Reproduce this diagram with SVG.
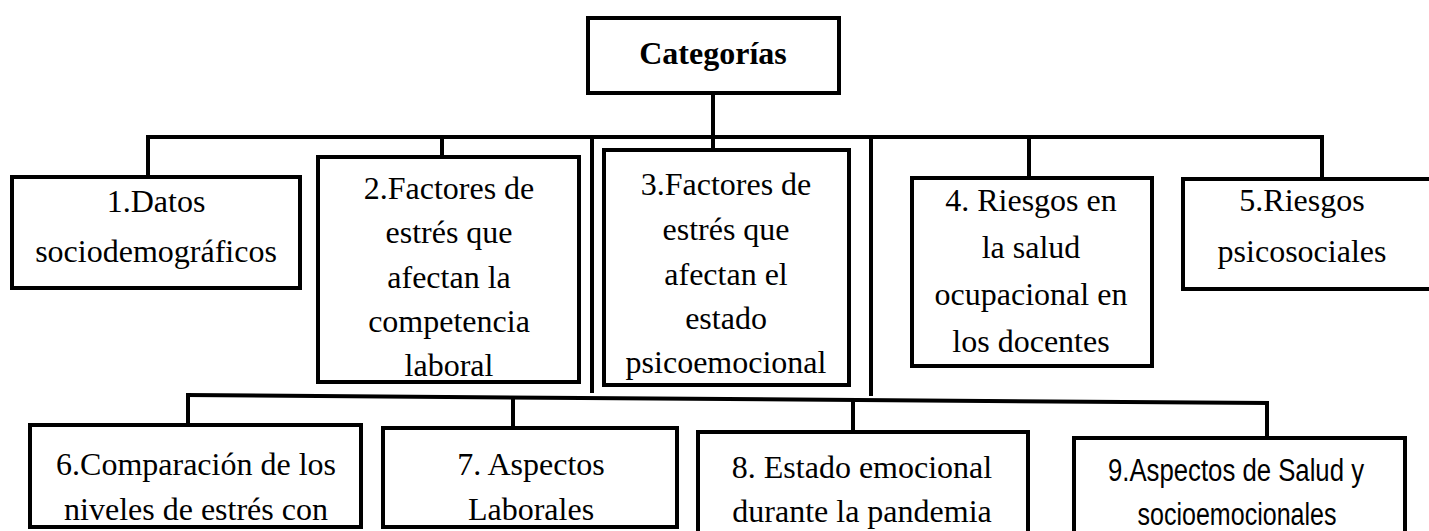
<svg xmlns="http://www.w3.org/2000/svg" width="1429" height="531" viewBox="0 0 1429 531">
<style>
.box{fill:#fff;stroke:#000;stroke-width:4}
.ln{stroke:#000;stroke-width:4;fill:none}
.t{font-family:'Liberation Serif','DejaVu Serif',serif;font-size:32px;fill:#000;text-anchor:middle}
.b{font-weight:bold}
.sans{font-family:'Liberation Sans Narrow','Liberation Sans',sans-serif;font-size:31px;fill:#000;text-anchor:middle}
</style>
<rect width="1429" height="531" fill="#fff"/>
<g id="connectors">
<line class="ln" x1="713" y1="93" x2="713" y2="150"/>
<line class="ln" x1="146" y1="137" x2="1324" y2="137"/>
<line class="ln" x1="148" y1="137" x2="148" y2="177"/>
<line class="ln" x1="442" y1="137" x2="442" y2="157"/>
<line class="ln" x1="1029" y1="137" x2="1029" y2="178"/>
<line class="ln" x1="1322" y1="137" x2="1322" y2="179"/>
<line class="ln" x1="592" y1="137" x2="592" y2="393"/>
<line class="ln" x1="871" y1="137" x2="871" y2="396"/>
<line class="ln" x1="186" y1="395" x2="1269" y2="403"/>
<line class="ln" x1="188" y1="395" x2="188" y2="425"/>
<line class="ln" x1="513" y1="397" x2="513" y2="428"/>
<line class="ln" x1="853" y1="400" x2="853" y2="432"/>
<line class="ln" x1="1267" y1="403" x2="1267" y2="438"/>
</g>
<g id="n0"><rect class="box" x="588" y="18" width="251" height="75"/><text class="t b" x="713" y="64">Categorías</text></g>
<g id="n1"><rect class="box" x="12" y="177" width="288" height="111"/><text class="t" x="156" y="212">1.Datos</text><text class="t" x="156" y="262">sociodemográficos</text></g>
<g id="n2"><rect class="box" x="318" y="157" width="261" height="225"/><text class="t" x="449" y="199">2.Factores de</text><text class="t" x="449" y="243">estrés que</text><text class="t" x="449" y="288">afectan la</text><text class="t" x="449" y="332">competencia</text><text class="t" x="449" y="376">laboral</text></g>
<g id="n3"><rect class="box" x="604" y="150" width="245" height="235"/><text class="t" x="726" y="195">3.Factores de</text><text class="t" x="726" y="240">estrés que</text><text class="t" x="726" y="285">afectan el</text><text class="t" x="726" y="329">estado</text><text class="t" x="726" y="373">psicoemocional</text></g>
<g id="n4"><rect class="box" x="912" y="178" width="240" height="188"/><text class="t" x="1031" y="211">4. Riesgos en</text><text class="t" x="1031" y="258">la salud</text><text class="t" x="1031" y="305">ocupacional en</text><text class="t" x="1031" y="352">los docentes</text></g>
<g id="n5"><rect class="box" x="1183" y="179" width="260" height="110"/><text class="t" x="1302" y="211">5.Riesgos</text><text class="t" x="1302" y="262">psicosociales</text></g>
<g id="n6"><rect class="box" x="30" y="425" width="331" height="102"/><text class="t" x="196" y="475">6.Comparación de los</text><text class="t" x="196" y="520">niveles de estrés con</text></g>
<g id="n7"><rect class="box" x="383" y="428" width="294" height="99"/><text class="t" x="531" y="475">7. Aspectos</text><text class="t" x="531" y="520">Laborales</text></g>
<g id="n8"><rect class="box" x="698" y="432" width="330" height="103"/><text class="t" x="862" y="478">8. Estado emocional</text><text class="t" x="862" y="522">durante la pandemia</text></g>
<g id="n9"><rect class="box" x="1074" y="438" width="331" height="97"/><text class="sans" x="1236" y="481" textLength="256" lengthAdjust="spacingAndGlyphs">9.Aspectos de Salud y</text><text class="sans" x="1237" y="525" textLength="199" lengthAdjust="spacingAndGlyphs">socioemocionales</text></g>
</svg>
